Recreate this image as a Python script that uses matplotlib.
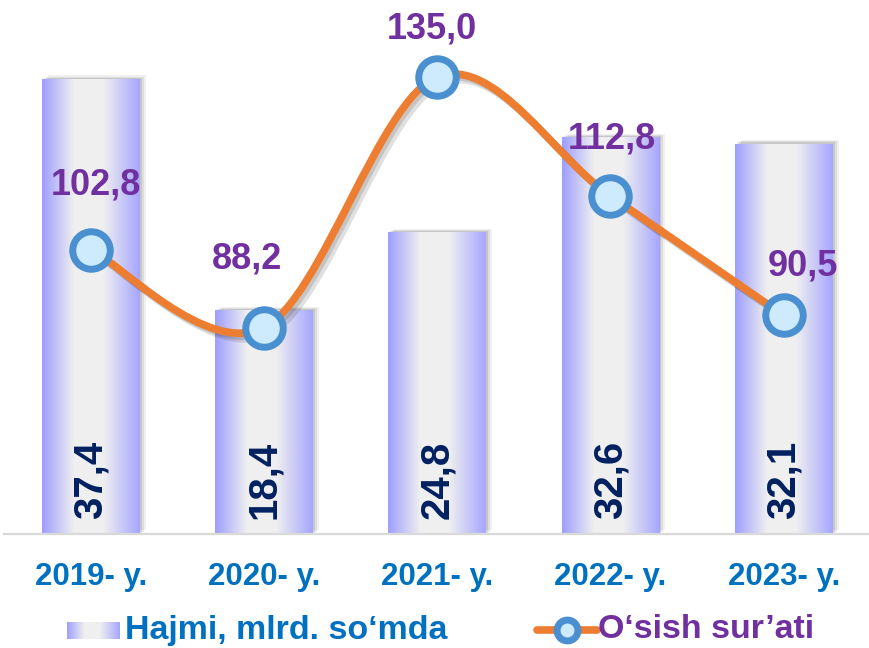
import numpy as np
import matplotlib
matplotlib.use("Agg")
from matplotlib import pyplot as plt
from matplotlib import patheffects as pe
from matplotlib import transforms
from matplotlib.path import Path
from matplotlib.patches import PathPatch
from matplotlib.lines import Line2D

plt.rcParams['font.family'] = ['Liberation Sans', 'DejaVu Sans']
plt.rcParams['font.weight'] = 'bold'

# data
years = ["2019- y.", "2020- y.", "2021- y.", "2022- y.", "2023- y."]
volume = [37.4, 18.4, 24.8, 32.6, 32.1]
growth = [102.8, 88.2, 135.0, 112.8, 90.5]

legend_labels = ["Hajmi, mlrd. so\u2018mda", "O\u2018sish sur\u2019ati"]

# label nudges in points (dx, dy above marker centre), hand placed like the original
label_offsets = [(4, 40), (-12, 43), (-4, 28), (1, 34), (14, 29)]

BLUE_TXT = "#0070C0"
PURPLE = "#7030A0"
NAVY = "#002060"
ORANGE = "#ED7D31"
MK_EDGE = "#4A90D0"
MK_FACE = "#CDEBFC"

W, H = 869, 648
fig = plt.figure(figsize=(W / 100, H / 100), dpi=100)
ax = fig.add_axes([4 / W, 114 / H, 0.997, 534 / H])
ax2 = ax.twinx()

x = np.arange(len(years))
bw = 0.565


def gradient_img():
    pos = [0.0, 0.33, 0.62, 1.0]
    stops = np.array([[0.62, 0.62, 1.0], [0.94, 0.94, 0.94], [0.94, 0.94, 0.94], [0.65, 0.65, 1.0]])
    t = np.linspace(0, 1, 256)
    img = np.stack([np.interp(t, pos, stops[:, c]) for c in range(3)], axis=-1)
    return img[np.newaxis, :, :]


grad = gradient_img()

# soft shadow behind bars
for k, a in [(2, 0.10), (4, 0.08), (6, 0.06)]:
    tr = transforms.offset_copy(ax.transData, fig=fig, x=k, y=k * 0.6, units='dots')
    ax.bar(x, volume, bw, color='black', alpha=a, transform=tr, zorder=1, linewidth=0)

# gradient bars
bars = ax.bar(x, volume, bw, color='none', zorder=2, linewidth=0)
for b in bars:
    im = ax.imshow(grad, extent=(b.get_x(), b.get_x() + b.get_width(), 0, b.get_height()),
                   aspect='auto', zorder=2, interpolation='bilinear')
    im.set_clip_path(b)

for xi, v in zip(x, volume):
    ax.annotate(f"{v:.1f}".replace(".", ","), (xi, 0), xytext=(0, 11), textcoords='offset points',
                rotation=90, ha='center', va='bottom', fontsize=29, fontweight='bold',
                color=NAVY, zorder=5)

ax.set_xlim(-0.5, 4.5)
ax.set_ylim(0, 43.9)
ax.set_xticks(x)
ax.set_xticklabels(years, fontsize=22.5, fontweight='bold', color=BLUE_TXT)
ax.tick_params(axis='x', length=0, pad=20)
ax.set_yticks([])
for s in ['top', 'right', 'left']:
    ax.spines[s].set_visible(False)
ax.spines['bottom'].set_color('#D9D9D9')
ax.spines['bottom'].set_linewidth(1.6)

# smoothed line (Catmull-Rom bezier through data points)
ax2.set_ylim(49.7, 149.4)
ax2.set_yticks([])
for s in ax2.spines.values():
    s.set_visible(False)

pts = np.column_stack([x, growth]).astype(float)
verts = [pts[0]]
codes = [Path.MOVETO]
n = len(pts)
for i in range(n - 1):
    p0 = pts[max(i - 1, 0)]
    p1 = pts[i]
    p2 = pts[i + 1]
    p3 = pts[min(i + 2, n - 1)]
    verts += [p1 + (p2 - p0) / 6, p2 - (p3 - p1) / 6, p2]
    codes += [Path.CURVE4] * 3
curve = PathPatch(Path(verts, codes), facecolor='none', edgecolor=ORANGE, lw=5.5,
                  capstyle='round', zorder=3,
                  path_effects=[pe.SimpleLineShadow(offset=(4, -4), shadow_color='black', alpha=0.12),
                                pe.SimpleLineShadow(offset=(2, -2), shadow_color='black', alpha=0.12),
                                pe.Normal()])
ax2.add_patch(curve)
ax2.plot(x, growth, linestyle='none', marker='o', ms=27, mew=5, mfc=MK_FACE, mec=MK_EDGE,
         zorder=4)

for xi, g, (dx, dy) in zip(x, growth, label_offsets):
    ax2.annotate(f"{g:.1f}".replace(".", ","), (xi, g), xytext=(dx, dy), textcoords='offset points',
                 ha='center', va='baseline', fontsize=26, fontweight='bold', color=PURPLE,
                 zorder=6)

# legend, drawn by hand to keep the gradient swatch
sw = fig.add_axes([67 / W, (H - 639) / H, 52 / W, 17 / H])
sw.imshow(grad, aspect='auto', extent=(0, 1, 0, 1), interpolation='bilinear')
sw.set_axis_off()
fig.text(125 / W, (H - 630) / H, legend_labels[0], fontsize=24.5, fontweight='bold',
         color=BLUE_TXT, va='center', ha='left')

ly = (H - 630) / H
fig.add_artist(Line2D([537 / W, 597 / W], [ly, ly], color=ORANGE, lw=5.5,
                      solid_capstyle='round', transform=fig.transFigure))
fig.add_artist(Line2D([567 / W], [ly], marker='o', ms=15, mew=5, mfc=MK_FACE, mec=MK_EDGE,
                      transform=fig.transFigure))
fig.text(598 / W, (H - 630) / H, legend_labels[1], fontsize=24.5, fontweight='bold',
         color=PURPLE, va='center', ha='left')

fig.savefig("out.png", dpi=100)
